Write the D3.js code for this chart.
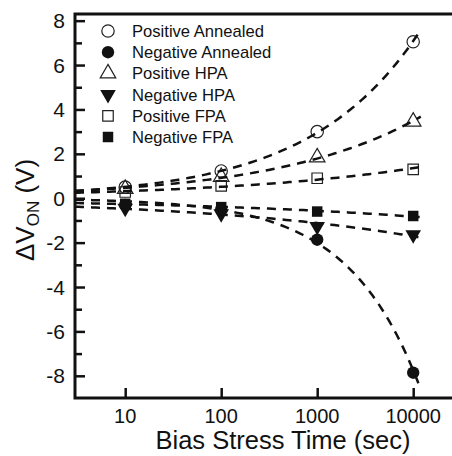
<!DOCTYPE html>
<html>
<head>
<meta charset="utf-8">
<script src="https://cdn.jsdelivr.net/npm/d3@7"></script>
<style>
    body { margin: 0; background: #fff; }
    svg { display: block; font-family: "Liberation Sans", Arial, sans-serif; }
</style>
</head>
<body>
<div id="chart"></div>
<script>
// Stress times (sec)
const times = [10, 100, 1000, 10000];

// Threshold shift (V) per sample
const posAnnealed = [0.5, 1.23, 3.0, 7.05];
const negAnnealed = [-0.3, -0.5, -1.87, -7.86];
const posHPA = [0.42, 0.96, 1.84, 3.45];
const negHPA = [-0.45, -0.7, -1.27, -1.65];
const posFPA = [0.28, 0.56, 0.9, 1.3];
const negFPA = [-0.25, -0.4, -0.6, -0.8];

const yTicks = [-8, -6, -4, -2, 0, 2, 4, 6, 8];
const yMinorTicks = [-7, -5, -3, -1, 1, 3, 5, 7];
const xTicks = [10, 100, 1000, 10000];

const series = [
    {name: "Positive Annealed", values: posAnnealed, shape: "circle", filled: false},
    {name: "Negative Annealed", values: negAnnealed, shape: "circle", filled: true},
    {name: "Positive HPA", values: posHPA, shape: "triangle", filled: false},
    {name: "Negative HPA", values: negHPA, shape: "down", filled: true},
    {name: "Positive FPA", values: posFPA, shape: "square", filled: false},
    {name: "Negative FPA", values: negFPA, shape: "square", filled: true},
];

const W = 452, H = 456;
const margin = {top: 14, left: 75, bottom: 58};

const svg = d3.select("#chart").append("svg")
    .attr("width", W)
    .attr("height", H);

// Log x axis runs past the right edge (picture is cropped there)
const x = d3.scaleLog().domain([3, 30000]).range([margin.left, margin.left + 384]);
const y = d3.scaleLinear().domain([-9, 8.3]).range([H - margin.bottom, margin.top]);

const ink = "#111";

// Fit y = A * t^b (weighted least squares, grid over b)
function powerFit(vals) {
    let best = null;
    for (let b = 0.01; b <= 1.0; b += 0.005) {
        let num = 0, den = 0;
        times.forEach(function (t, i) {
            const p = Math.pow(t, b), w = 1 / Math.abs(vals[i]);
            num += w * vals[i] * p;
            den += w * p * p;
        });
        const A = num / den;
        let err = 0;
        times.forEach(function (t, i) {
            err += Math.pow(vals[i] - A * Math.pow(t, b), 2) / Math.abs(vals[i]);
        });
        if (!best || err < best.err) best = {A: A, b: b, err: err};
    }
    return best;
}

function symbolPath(shape) {
    if (shape === "circle") return d3.symbol(d3.symbolCircle, 120)();
    if (shape === "square") return d3.symbol(d3.symbolSquare, 110)();
    return d3.symbol(d3.symbolTriangle, 105)();
}

function drawMarker(g, s, cx, cy) {
    g.append("path")
        .attr("d", symbolPath(s.shape))
        .attr("transform", "translate(" + cx + "," + cy + ")" + (s.shape === "down" ? " rotate(180)" : ""))
        .attr("fill", s.filled ? ink : "none")
        .attr("stroke", s.filled ? "none" : "#222")
        .attr("stroke-width", 1.2);
}

// Markers
const marks = svg.append("g");
series.forEach(function (s) {
    s.values.forEach(function (v, i) {
        drawMarker(marks, s, x(times[i]), y(v));
    });
});

// Fitted dashed curves
const fitTimes = d3.range(0, 101).map(function (i) {
    return Math.pow(10, Math.log10(3) + i * (Math.log10(12000) - Math.log10(3)) / 100);
});
const line = d3.line()
    .x(function (d) { return x(d[0]); })
    .y(function (d) { return y(d[1]); });
series.forEach(function (s) {
    const f = powerFit(s.values);
    svg.append("path")
        .datum(fitTimes.map(function (t) { return [t, f.A * Math.pow(t, f.b)]; }))
        .attr("fill", "none")
        .attr("stroke", ink)
        .attr("stroke-width", 2.5)
        .attr("stroke-dasharray", "9,7")
        .attr("d", line);
});

// Frame
svg.append("rect")
    .attr("x", margin.left)
    .attr("y", margin.top)
    .attr("width", x.range()[1] - margin.left)
    .attr("height", y.range()[0] - margin.top)
    .attr("fill", "none")
    .attr("stroke", ink)
    .attr("stroke-width", 3);

// Y axis
const yAxis = svg.append("g").attr("transform", "translate(" + margin.left + ",0)")
    .call(d3.axisRight(y).tickValues(yTicks).tickSize(10).tickFormat(""));
yAxis.select(".domain").remove();
yAxis.selectAll("line").attr("stroke", ink).attr("stroke-width", 2.5);
const yMinor = svg.append("g").attr("transform", "translate(" + margin.left + ",0)")
    .call(d3.axisRight(y).tickValues(yMinorTicks).tickSize(7).tickFormat(""));
yMinor.select(".domain").remove();
yMinor.selectAll("line").attr("stroke", ink).attr("stroke-width", 2.5);

svg.append("g").selectAll("text")
    .data(yTicks)
    .join("text")
    .attr("x", margin.left - 10)
    .attr("y", function (d) { return y(d); })
    .attr("dy", "0.36em")
    .attr("text-anchor", "end")
    .attr("font-size", 21)
    .attr("fill", ink)
    .text(function (d) { return d; });

// X axis
const xAxis = svg.append("g").attr("transform", "translate(0," + y.range()[0] + ")")
    .call(d3.axisTop(x).tickValues(xTicks).tickSize(10).tickFormat(""));
xAxis.select(".domain").remove();
xAxis.selectAll("line").attr("stroke", ink).attr("stroke-width", 2.5);

svg.append("g").selectAll("text")
    .data(xTicks)
    .join("text")
    .attr("x", function (d) { return x(d); })
    .attr("y", y.range()[0] + 25)
    .attr("text-anchor", "middle")
    .attr("font-size", 20)
    .attr("fill", ink)
    .text(function (d) { return d; });

// Axis titles
svg.append("text")
    .attr("x", 283)
    .attr("y", 449)
    .attr("text-anchor", "middle")
    .attr("font-size", 25.5)
    .attr("fill", ink)
    .text("Bias Stress Time (sec)");

const yl = svg.append("text")
    .attr("transform", "translate(34,210) rotate(-90)")
    .attr("text-anchor", "middle")
    .attr("font-size", 26)
    .attr("fill", ink);
yl.append("tspan").text("ΔV");
yl.append("tspan").attr("font-size", 17).attr("dy", 5).text("ON");
yl.append("tspan").attr("dy", -5).text(" (V)");

// Legend
const legend = svg.append("g");
series.forEach(function (s, i) {
    const ly = 31 + i * 21.2;
    drawMarker(legend, s, 108, ly);
    legend.append("text")
        .attr("x", 132)
        .attr("y", ly)
        .attr("dy", "0.36em")
        .attr("font-size", 16.6)
        .attr("fill", ink)
        .text(s.name);
});
</script>
</body>
</html>
